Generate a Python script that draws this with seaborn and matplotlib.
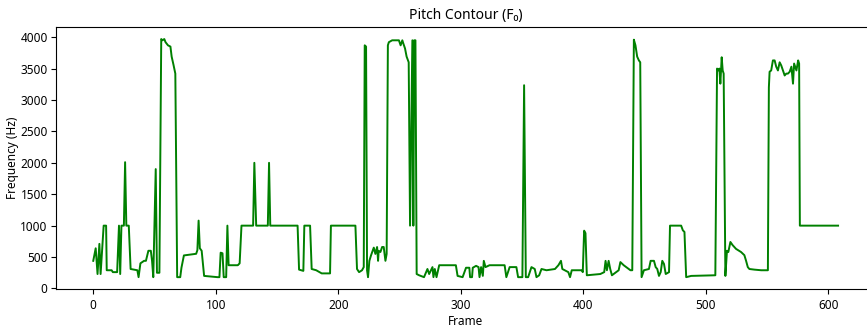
# Pitch contour (F0) over frames, redrawn from the reference figure.

import pandas as pd
import seaborn as sns
import matplotlib
matplotlib.use("Agg")
import matplotlib.pyplot as plt

plt.rcParams["font.family"] = ["Noto Sans", "DejaVu Sans"]

# breakpoints of the contour (frame index, Hz)
frames = [
    0, 2, 3.5, 5, 6, 8.5, 10.5, 11, 15, 16, 19.5, 21, 22, 23, 25, 26, 27, 29,
    30.5, 36, 37, 38.5, 41.5, 43, 45, 47, 48, 49, 51, 52, 54, 55.5, 56.5, 58,
    59, 61, 63, 64, 65.5, 67, 68.5, 71, 72, 74, 84, 85, 86, 87, 88.5, 90.5,
    101.5, 103, 104, 105.5, 106.5, 108.5, 109.5, 110.5, 118, 119.5, 121,
    130.5, 131.5, 133, 142.5, 143.5, 144.5,
    166.8, 168, 171.5, 172.3, 177, 178.3, 182, 186.5, 193.3, 194, 214, 215.3,
    217, 219.4, 220.8, 221.6, 222.7, 223.5, 224.3, 225.4, 226.8, 229, 230.3,
    231.7, 232.5, 233, 234.4, 235.8, 237.1, 238.5, 239.5, 240.5, 241.3, 244,
    249.5, 250.9, 252.3, 253.1, 254.5, 255.8, 257.5, 258.6, 260.5, 261.3, 262,
    263, 264, 266, 270, 272.8, 274.2, 276.9, 277.7, 278.8, 280.2, 282.4, 296,
    297.4, 301.5,
    304.3, 307, 307.6, 309.2, 309.8, 312.5, 314.5, 315.3, 316.6, 318, 318.8,
    320.2, 323.5, 335.8, 337.2, 339.9, 345.4, 346.8, 350.3, 351.7, 353.1, 355,
    357.7, 360.4, 361.8, 364, 365.9, 370, 376.9, 379.7, 381.8, 382.9, 387.8,
    389.2, 390.6, 394.7, 398.8, 399.6, 400.7, 401.8, 402.9, 413.9, 417.1,
    418.2, 419.3, 420.7, 422, 423.4, 428.9, 430.3, 433, 437.1, 438.5, 440,
    441.3, 442.6, 444, 445.4, 446.5, 447.6, 449.5,
    453.6, 455, 457.7, 459.1, 460.4, 461.8, 463.2, 464.5, 465.9, 467.3, 470,
    470.8, 479.9, 481.3, 482.6, 484, 488.1, 507.8, 509.2, 510.2, 511.1, 511.9,
    513, 513.8, 514.6, 516, 517.3, 518.4, 520.1, 521.9, 524.7, 528.8, 531.5,
    532.9, 534.3, 535.6, 539.7, 545.2, 550.7, 551.5, 552.1, 553.4, 554.8,
    556.2, 557.5, 558.9, 560.3, 561.6, 563, 564.4, 565.7, 567.1, 568.5, 569.9,
    571.2, 572.1, 574, 575.4, 576.2, 576.8, 608,
]
pitch_hz = [
    440, 640, 230, 710, 230, 1000, 1000, 290, 290, 260, 260, 1000, 230, 1000,
    1000, 2010, 1000, 1000, 310, 290, 180, 400, 440, 440, 600, 600, 440, 180,
    1900, 250, 250, 3970, 3950, 3970, 3920, 3870, 3850, 3690, 3560, 3420, 180,
    180, 330, 526, 552, 610, 1080, 640, 600, 200, 180, 180, 570, 560, 180,
    180, 1000, 370, 370, 400, 1000, 1000, 2000, 1000, 1000, 2000, 1000,
    1000, 300, 280, 1000, 1000, 310, 290, 240, 240, 1000, 1000, 310, 260, 290,
    340, 3870, 3850, 290, 180, 440, 530, 650, 550, 660, 440, 600, 580, 660,
    660, 440, 550, 3870, 3920, 3950, 3950, 3870, 3950, 3900, 3820, 3690, 3600,
    1000, 3950, 1000, 3950, 3950, 230, 210, 180, 310, 230, 340, 180, 310, 180,
    370, 370, 200, 180,
    330, 330, 180, 180, 330, 360, 340, 180, 340, 200, 440, 340, 370, 370, 180,
    340, 340, 180, 180, 3235, 180, 180, 340, 310, 180, 210, 310, 290, 310, 370,
    440, 310, 260, 180, 290, 290, 290, 260, 920, 880, 210, 230, 260, 440, 290,
    440, 310, 210, 290, 420, 370, 310, 290, 290, 3960, 3870, 3690, 3630, 3600,
    180, 290,
    310, 440, 440, 340, 310, 200, 260, 440, 390, 230, 260, 1000, 1000, 925,
    900, 180, 200, 210, 3500, 3470, 3500, 3260, 3680, 3470, 3420, 200, 600,
    580, 740, 690, 630, 580, 530, 440, 340, 310, 300, 290, 290, 3200, 3450,
    3470, 3630, 3630, 3530, 3470, 3600, 3550, 3470, 3390, 3420, 3420, 3450,
    3530, 3260, 3580, 3470, 3630, 3580, 1000, 1000,
]
x_ticks = [0, 100, 200, 300, 400, 500, 600]
y_ticks = [0, 500, 1000, 1500, 2000, 2500, 3000, 3500, 4000]

df = pd.DataFrame({"Frame": frames, "Frequency (Hz)": pitch_hz})

fig = plt.figure(figsize=(8.67, 3.27), dpi=100)
# axes run slightly past the right edge, like the cropped original
ax = fig.add_axes([0.0646, 0.116, 0.945, 0.801])

sns.lineplot(data=df, x="Frame", y="Frequency (Hz)", color="green",
             linewidth=1.4, sort=False, estimator=None, ax=ax)

ax.set_title("Pitch Contour (F\u2080)", fontsize=10)
ax.set_xlabel("Frame", fontsize=8.5, labelpad=2)
ax.set_ylabel("Frequency (Hz)", fontsize=8.5, labelpad=1)
ax.set_xticks(x_ticks)
ax.set_yticks(y_ticks)
ax.tick_params(labelsize=8.5)
ax.tick_params(axis="y", pad=2.5)

fig.savefig("out.png", dpi=100)
plt.close(fig)
